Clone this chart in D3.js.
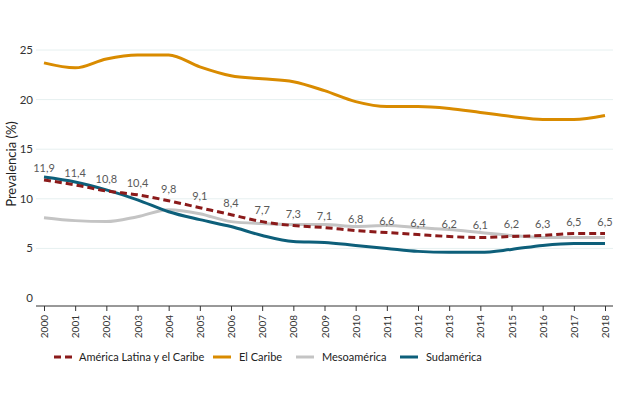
<!DOCTYPE html>
<html>
<head>
<meta charset="utf-8">
<script src="https://cdn.jsdelivr.net/npm/d3@7"></script>
<style>
  body { margin: 0; background: #fff; }
  svg { font-family: Lato, "Open Sans", sans-serif; }
</style>
</head>
<body>
<script>
// years on the x axis
var years = d3.range(2000, 2019)

// series values (prevalence, %)
var alc = [11.9, 11.4, 10.8, 10.4, 9.8, 9.1, 8.4, 7.7, 7.3, 7.1, 6.8, 6.6, 6.4, 6.2, 6.1, 6.2, 6.3, 6.5, 6.5]
var caribe = [23.7, 23.2, 24.1, 24.5, 24.5, 23.3, 22.4, 22.1, 21.8, 20.9, 19.8, 19.3, 19.3, 19.1, 18.7, 18.3, 18.0, 18.0, 18.4]
var meso = [8.1, 7.8, 7.7, 8.2, 8.9, 8.5, 7.7, 7.5, 7.4, 7.4, 7.2, 7.3, 7.1, 6.9, 6.6, 6.3, 6.1, 6.1, 6.1]
var sud = [12.2, 11.7, 10.9, 9.9, 8.7, 7.9, 7.2, 6.3, 5.7, 5.6, 5.3, 5.0, 4.7, 4.6, 4.6, 4.9, 5.3, 5.5, 5.5]

var yTicks = [0, 5, 10, 15, 20, 25]

var series = [
  { name: 'El Caribe', values: caribe, color: '#d98b00', dash: null },
  { name: 'Mesoamérica', values: meso, color: '#c4c4c4', dash: null },
  { name: 'Sudamérica', values: sud, color: '#0d5f7a', dash: null },
  { name: 'América Latina y el Caribe', values: alc, color: '#8b1a1a', dash: '7,4' }
]
var legendOrder = [3, 0, 1, 2]

var width = 635
var height = 394

var svg = d3.select('body').append('svg')
  .attr('width', width)
  .attr('height', height)

var x = d3.scalePoint().domain(years).range([44, 605])
var y = d3.scaleLinear().domain([0, 25]).range([298, 50])

// gridlines
svg.append('g')
  .selectAll('line')
  .data(yTicks.slice(1))
  .enter().append('line')
  .attr('x1', 36).attr('x2', 613)
  .attr('y1', function (d) { return y(d) })
  .attr('y2', function (d) { return y(d) })
  .attr('stroke', '#e6f0f0')
  .attr('stroke-width', 1)

// y tick labels
svg.append('g')
  .selectAll('text')
  .data(yTicks)
  .enter().append('text')
  .attr('x', 33)
  .attr('y', function (d) { return y(d) })
  .attr('dy', '0.35em')
  .attr('text-anchor', 'end')
  .attr('font-size', 11.5)
  .attr('fill', '#333')
  .text(function (d) { return d })

// y axis title
svg.append('text')
  .attr('transform', 'translate(16,164) rotate(-90)')
  .attr('text-anchor', 'middle')
  .attr('font-size', 13)
  .attr('fill', '#222')
  .text('Prevalencia (%)')

// x axis
var xAxis = svg.append('g')
  .attr('transform', 'translate(0,306)')
  .call(d3.axisBottom(x).tickSize(5).tickSizeOuter(0))
xAxis.select('.domain').remove()
xAxis.insert('line', ':first-child')
  .attr('x1', 36).attr('x2', 613)
  .attr('stroke', '#333')
xAxis.selectAll('.tick line').attr('stroke', '#333')
xAxis.selectAll('.tick text')
  .attr('transform', 'rotate(-90)')
  .attr('text-anchor', 'end')
  .attr('x', -9)
  .attr('y', 0)
  .attr('dy', '0.35em')
  .attr('font-size', 10)
  .attr('font-family', 'Lato, sans-serif')
  .attr('fill', '#333')

// lines
var line = d3.line()
  .x(function (d, i) { return x(years[i]) })
  .y(function (d) { return y(d) })
  .curve(d3.curveMonotoneX)

svg.append('g')
  .selectAll('path')
  .data(series)
  .enter().append('path')
  .attr('d', function (d) { return line(d.values) })
  .attr('fill', 'none')
  .attr('stroke', function (d) { return d.color })
  .attr('stroke-width', 3)
  .attr('stroke-dasharray', function (d) { return d.dash })

// data labels for América Latina y el Caribe
svg.append('g')
  .selectAll('text')
  .data(alc)
  .enter().append('text')
  .attr('x', function (d, i) { return x(years[i]) })
  .attr('y', function (d) { return y(d) - 8 })
  .attr('text-anchor', 'middle')
  .attr('font-size', 11)
  .attr('fill', '#595959')
  .text(function (d) { return d.toFixed(1).replace('.', ',') })

// legend
var legendX = [54, 213, 296, 400]
var legend = svg.append('g')
  .selectAll('g')
  .data(legendOrder)
  .enter().append('g')
  .attr('transform', function (d, i) { return 'translate(' + legendX[i] + ',357)' })

legend.append('line')
  .attr('x1', 0).attr('x2', 18)
  .attr('stroke', function (d) { return series[d].color })
  .attr('stroke-width', 3)
  .attr('stroke-dasharray', function (d) { return series[d].dash })

legend.append('text')
  .attr('x', function (d) { return d === 3 ? 25 : 26 })
  .attr('dy', '0.35em')
  .attr('font-size', 11)
  .attr('fill', '#222')
  .text(function (d) { return series[d].name })
</script>
</body>
</html>
